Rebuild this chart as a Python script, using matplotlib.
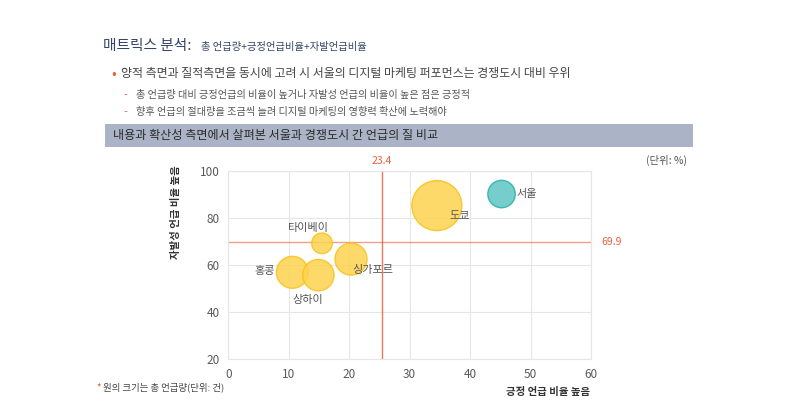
import numpy as np
import matplotlib.pyplot as plt
from matplotlib.patches import Rectangle

plt.rcParams['font.family'] = ['Noto Sans CJK KR', 'DejaVu Sans']

# data
cities = ['서울', '도쿄', '타이베이', '싱가포르', '홍콩', '상하이']
positive_ratio = [45.2, 34.5, 15.5, 20.3, 10.6, 14.9]     # x, %
voluntary_ratio = [90.1, 85.2, 69.2, 62.5, 56.9, 55.7]    # y, %
mentions = [188, 625, 106, 256, 256, 246]                 # bubble size (relative)
avg_x = 25.4
avg_x_label = '23.4'
avg_y = 69.9
avg_y_label = '69.9'

yellow_face = '#FDD34F'
yellow_edge = '#F7C21A'
teal_face = '#5DC6C2'
teal_edge = '#27AFA9'
accent = '#E8603C'

fig = plt.figure(figsize=(8, 4.2), dpi=100)

# header texts
fig.text(103 / 800, 1 - 46 / 420, '매트릭스 분석:', fontsize=10.6, color='#34446A', va='center')
fig.text(201 / 800, 1 - 47 / 420, '총 언급량+긍정언급비율+자발언급비율', fontsize=7.4, color='#34446A', va='center')
fig.text(111 / 800, 1 - 74 / 420, '•', fontsize=10, color=accent, va='center')
fig.text(121 / 800, 1 - 74 / 420, '양적 측면과 질적측면을 동시에 고려 시 서울의 디지털 마케팅 퍼포먼스는 경쟁도시 대비 우위',
         fontsize=8.6, color='#444444', va='center')
for yy, line in [(95, '총 언급량 대비 긍정언급의 비율이 높거나 자발성 언급의 비율이 높은 점은 긍정적'),
                 (112, '향후 언급의 절대량을 조금씩 늘려 디지털 마케팅의 영향력 확산에 노력해야')]:
    fig.text(123 / 800, 1 - yy / 420, '-', fontsize=8, color=accent, va='center')
    fig.text(136 / 800, 1 - yy / 420, line, fontsize=7.3, color='#555555', va='center')

fig.patches.append(Rectangle((105 / 800, 1 - 147 / 420), 588 / 800, 23 / 420,
                             transform=fig.transFigure, facecolor='#AAB4C6', edgecolor='none'))
fig.text(113 / 800, 1 - 136 / 420, '내용과 확산성 측면에서 살펴본 서울과 경쟁도시 간 언급의 질 비교',
         fontsize=8.7, color='#2A2A2A', va='center')

ax = fig.add_axes([228.3 / 800, 1 - 359.3 / 420, 362.7 / 800, 188.6 / 420])

# scale bubble areas so the biggest one has ~25 px radius
r_px = 25 * np.sqrt(np.array(mentions) / max(mentions))
sizes = (2 * r_px * 0.72) ** 2
faces = [teal_face if c == '서울' else yellow_face for c in cities]
edges = [teal_edge if c == '서울' else yellow_edge for c in cities]
ax.scatter(positive_ratio, voluntary_ratio, s=sizes, c=faces, edgecolors=edges,
           linewidths=1, alpha=0.85, zorder=3)

ax.axvline(avg_x, color=accent, lw=1, alpha=0.85, zorder=2)
ax.axhline(avg_y, color=accent, lw=1, alpha=0.6, zorder=2)

# bubble labels
label_pos = {
    '서울': (2.4, 0.2, 'left'),
    '도쿄': (3.8, -4.7, 'center'),
    '타이베이': (-2.4, 6.5, 'center'),
    '싱가포르': (3.6, -4.5, 'center'),
    '홍콩': (-4.5, 0.5, 'center'),
    '상하이': (-1.7, -10.6, 'center'),
}
for c, x, y in zip(cities, positive_ratio, voluntary_ratio):
    dx, dy, ha = label_pos[c]
    ax.text(x + dx, y + dy, c, fontsize=8, color='#555555', ha=ha, va='center', zorder=4)

ax.set_xlim(0, 60)
ax.set_ylim(20, 100)
ax.set_xticks(range(0, 61, 10))
ax.set_yticks(range(20, 101, 20))
ax.grid(color='#E6E6E6', lw=0.8, zorder=0)
ax.tick_params(length=0, labelsize=8.5, labelcolor='#5A5A5A', pad=6)
for s in ax.spines.values():
    s.set_color('#E6E6E6')

fig.text(382 / 800, 1 - 161 / 420, avg_x_label, fontsize=7.5, color=accent, ha='center', va='center')
fig.text(601 / 800, 1 - 242 / 420, avg_y_label, fontsize=7.5, color=accent, ha='left', va='center')
fig.text(687 / 800, 1 - 160 / 420, '(단위: %)', fontsize=7.5, color='#555555', ha='right', va='center')
fig.text(176 / 800, 1 - 212 / 420, '자발성 언급 비율 높음', fontsize=7.5, color='#333333', fontweight='bold',
         rotation=90, ha='center', va='center')
fig.text(548 / 800, 1 - 392 / 420, '긍정 언급 비율 높음', fontsize=7.5, color='#333333', fontweight='bold',
         ha='center', va='center')
fig.text(96 / 800, 1 - 387 / 420, '*', fontsize=7, color=accent, va='center')
fig.text(103 / 800, 1 - 387 / 420, '원의 크기는 총 언급량(단위: 건)', fontsize=6.8, color='#444444', va='center')

fig.savefig('out.png', dpi=100)
